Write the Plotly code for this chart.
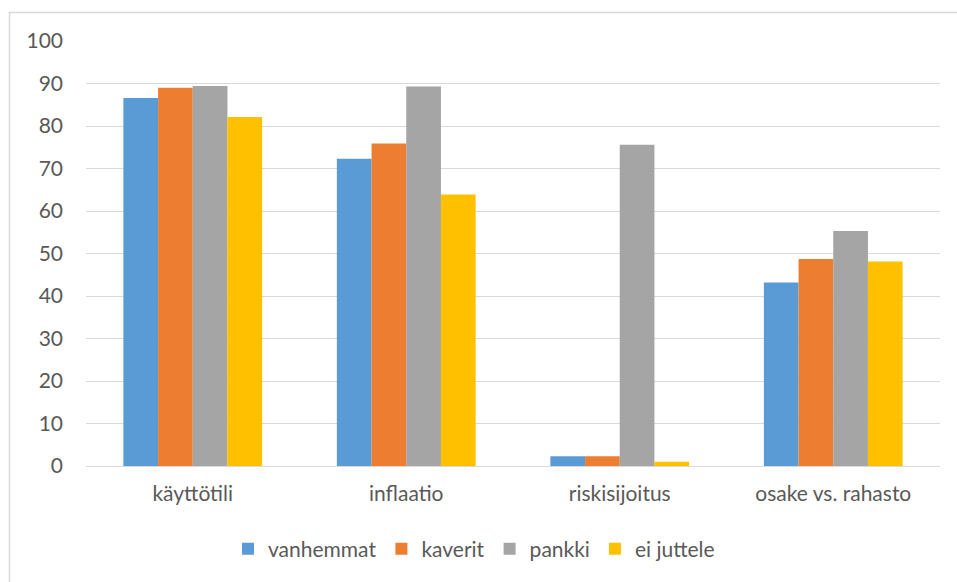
import plotly.graph_objects as go

categories = ["käyttötili", "inflaatio", "riskisijoitus", "osake vs. rahasto"]
vanhemmat = [86.6, 72.3, 2.3, 43.2]
kaverit = [89.0, 75.9, 2.3, 48.7]
pankki = [89.4, 89.3, 75.6, 55.3]
ei_juttele = [82.1, 63.9, 1.0, 48.1]

series = [
    ("vanhemmat", vanhemmat, "#5B9BD5"),
    ("kaverit", kaverit, "#ED7D31"),
    ("pankki", pankki, "#A5A5A5"),
    ("ei juttele", ei_juttele, "#FFC000"),
]

fig = go.Figure()
for name, vals, color in series:
    fig.add_trace(go.Bar(x=categories, y=vals, name=name,
                         marker=dict(color=color, line=dict(width=0))))

W, H = 957, 582
L, R, T, B = 86, 17, 41, 116
pw, ph = W - L - R, H - T - B


def px_x(p):
    return (p - L) / pw


def px_y(p):
    return (H - B - p) / ph


font = dict(family="Lato, 'Open Sans', sans-serif", size=21, color="#595959")

fig.update_layout(
    width=W, height=H,
    margin=dict(l=L, r=R, t=T, b=B),
    plot_bgcolor="white", paper_bgcolor="white",
    barmode="group", bargap=0.35, bargroupgap=0,
    font=font,
    showlegend=True,
    legend=dict(orientation="h", x=px_x(474), xanchor="center", y=px_y(549), yanchor="middle",
                font=font, itemwidth=30, traceorder="normal"),
    xaxis=dict(showgrid=False, showline=True, linecolor="#D9D9D9", linewidth=1,
               ticks="", tickfont=font, ticklabelstandoff=9),
    yaxis=dict(range=[0, 100], dtick=10, showgrid=True, gridcolor="#D9D9D9",
               gridwidth=1, zeroline=False, showline=False, ticks="",
               tickfont=font, ticklabelstandoff=22),
    shapes=[dict(type="rect", xref="paper", yref="paper",
                 x0=px_x(9.5), x1=px_x(1000), y0=px_y(12.5), y1=px_y(700),
                 line=dict(color="#D9D9D9", width=1.5), layer="below")],
)

fig.write_html("out.html")
